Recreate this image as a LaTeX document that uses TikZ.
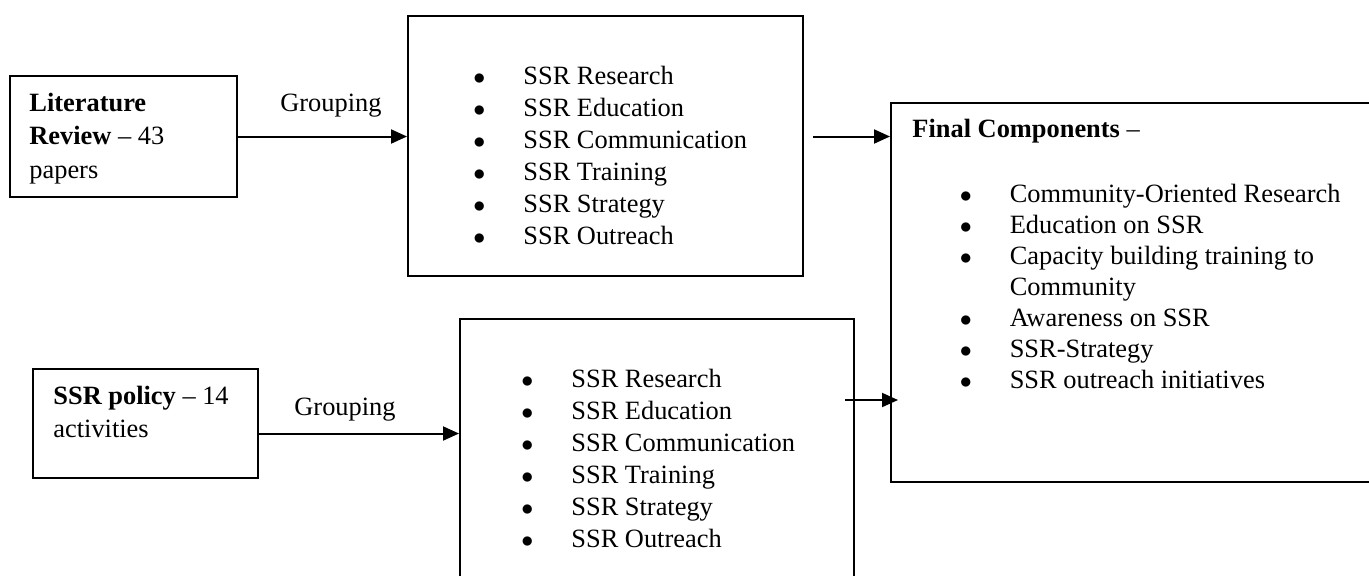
\documentclass[tikz,border=0pt]{standalone}
\usepackage{fontspec}
\setmainfont{Liberation Serif}
\usetikzlibrary{arrows.meta,positioning,calc}

\newcommand{\lbul}{\makebox[25pt][l]{$\bullet$}}

\begin{document}
\begin{tikzpicture}[
    x=0.5pt, y=-0.5pt,
    srcbox/.style={rectangle, draw, line width=1pt, anchor=north west, inner sep=0pt},
    bodytext/.style={anchor=base west, inner sep=0pt, font=\fontsize{13.2}{16.75}\selectfont},
    listtext/.style={anchor=base west, inner sep=0pt, font=\fontsize{13.2}{16}\selectfont},
    finaltext/.style={anchor=base west, inner sep=0pt, font=\fontsize{13.2}{15.5}\selectfont},
    grouplabel/.style={inner sep=0pt, font=\fontsize{13.2}{16}\selectfont},
    arrow/.style={-{Triangle[length=8pt,width=7pt]}, line width=1pt}
]
\path[use as bounding box, clip] (0,0) rectangle (1369,575);

% Sources
\node[srcbox, minimum width=113.5pt, minimum height=60.5pt] (lit) at (9,75) {};
\node[bodytext] (littext) at (29,111) {\begin{tabular}[t]{@{}l@{}}\textbf{Literature}\\\textbf{Review} -- 43\\papers\end{tabular}};

\node[srcbox, minimum width=112.5pt, minimum height=54.5pt] (policy) at (32,368) {};
\node[bodytext] (policytext) at (53,404) {\begin{tabular}[t]{@{}l@{}}\textbf{SSR policy} -- 14\\activities\end{tabular}};

% Grouped lists
\node[srcbox, minimum width=197.5pt, minimum height=130pt] (grpA) at (407,15) {};
\node[listtext] (listA) at (473,84) {\begin{tabular}[t]{@{}l@{}}\lbul SSR Research\\\lbul SSR Education\\\lbul SSR Communication\\\lbul SSR Training\\\lbul SSR Strategy\\\lbul SSR Outreach\end{tabular}};

\node[srcbox, minimum width=197pt, minimum height=141pt] (grpB) at (459,318) {};
\node[listtext] (listB) at (521,387) {\begin{tabular}[t]{@{}l@{}}\lbul SSR Research\\\lbul SSR Education\\\lbul SSR Communication\\\lbul SSR Training\\\lbul SSR Strategy\\\lbul SSR Outreach\end{tabular}};

% Final components
\node[srcbox, minimum width=255pt, minimum height=189.5pt] (final) at (890,102) {};
\node[finaltext] (finallist) at (912,137) {\begin{tabular}[t]{@{}l@{}}\textbf{Final Components} --\\[17pt]
    \hspace*{23.7pt}\lbul Community-Oriented Research\\
    \hspace*{23.7pt}\lbul Education on SSR\\
    \hspace*{23.7pt}\lbul Capacity building training to\\
    \hspace*{23.7pt}\hspace*{25pt}Community\\
    \hspace*{23.7pt}\lbul Awareness on SSR\\
    \hspace*{23.7pt}\lbul SSR-Strategy\\
    \hspace*{23.7pt}\lbul SSR outreach initiatives\end{tabular}};

% Arrows
\draw[arrow] (lit.east) -- node[grouplabel, above=9pt, pos=0.55] (grp1) {Grouping} (lit.east -| grpA.west);
\draw[arrow] ([yshift=-5pt]policy.east) -- node[grouplabel, above=5.5pt, pos=0.43] (grp2) {Grouping} ([yshift=-5pt]policy.east -| grpB.west);

\coordinate (a2) at ($(grpA.east |- lit.east)+(9,0)$);
\draw[arrow] (a2) -- (a2 -| final.west);

\coordinate (a3) at ($(grpB.east |- 0,400)+(-10,0)$);
\draw[arrow] (a3) -- ($(a3 -| final.west)+(8,0)$);

\end{tikzpicture}
\end{document}
